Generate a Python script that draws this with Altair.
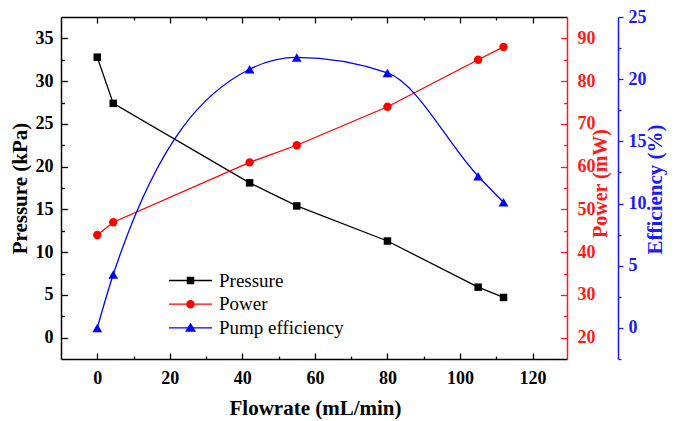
import altair as alt
import pandas as pd

# ---- data ----
flow = [0, 4.4, 42, 55, 80, 105, 112]
pressure = [32.8, 27.4, 18.1, 15.4, 11.3, 5.9, 4.7]
power = [44, 47, 61, 65, 74, 85, 88]
efficiency = [0.0, 4.3, 20.8, 21.75, 20.5, 12.2, 10.1]

series_names = ["Pressure", "Power", "Pump efficiency"]
series_colors = ["#000000", "#ff0000", "#0000ff"]

x_ticks = [0, 20, 40, 60, 80, 100, 120]
x_minor = [0, 10, 20, 30, 40, 50, 60, 70, 80, 90, 100, 110, 120]
p_ticks = [0, 5, 10, 15, 20, 25, 30, 35]
p_minor = [0, 2.5, 5, 7.5, 10, 12.5, 15, 17.5, 20, 22.5, 25, 27.5, 30, 32.5, 35]
w_ticks = [20, 30, 40, 50, 60, 70, 80, 90]
w_minor = [20, 25, 30, 35, 40, 45, 50, 55, 60, 65, 70, 75, 80, 85, 90]
e_minor = [-2.5, 0, 2.5, 5, 7.5, 10, 12.5, 15, 17.5, 20, 22.5, 25]

df = pd.DataFrame({"flow": flow, "pressure": pressure, "power": power, "eff": efficiency})
legend_df = pd.DataFrame({"series": series_names})

# legend symbols: line stub + marker (custom paths, size 100 -> 5px per unit)
legend_paths = [
    "M-4.3,0H4.3M-0.62,-0.62H0.62V0.62H-0.62Z",
    "M-4.3,0H4.3M0.72,0A0.72,0.72,0,1,1,-0.72,0A0.72,0.72,0,1,1,0.72,0Z",
    "M-4.3,0H4.3M0,-0.8L0.87,0.62L-0.87,0.62Z",
]

FONT = "Liberation Serif"
W, H = 506, 342
RED = "#ff1a1a"
BLUE = "#1a1aff"

xs = alt.Scale(domain=[-10, 129.5], nice=False, zero=False)
ys_p = alt.Scale(domain=[-2.5, 37.5], nice=False, zero=False)
ys_w = alt.Scale(domain=[15, 95], nice=False, zero=False)
ys_e = alt.Scale(domain=[-2.5, 25], nice=False, zero=False)

lab = dict(labelFont=FONT, labelFontSize=18, labelFontWeight="bold", grid=False,
           labelOverlap=False, labelFlush=False)
tit = dict(titleFont=FONT, titleFontWeight="bold", titleAlign="center", titleBaseline="middle")


def tsize(mod, big, small):
    return {"condition": {"test": f"abs(datum.value % {mod}) < 0.001", "value": big}, "value": small}


blank = dict(labels=False, domain=False, grid=False, title=None)

x_main = alt.Axis(orient="bottom", values=x_ticks, title="Flowrate (mL/min)", titleFontSize=21,
                  titleX=254, titleY=49, ticks=False, tickSize=0, labelPadding=10,
                  labelColor="black", domainColor="black", domainWidth=1.5, **lab, **tit)
x_in_bottom = alt.Axis(orient="top", offset=-H, values=x_minor, tickColor="black", tickWidth=1.3,
                       tickSize=tsize(20, 6, 3), **blank)
x_in_top = alt.Axis(orient="bottom", offset=-H, values=x_minor, tickColor="black", tickWidth=1.3,
                    tickSize=tsize(20, 6, 3), labels=False, grid=False, title=None,
                    domain=True, domainColor="black", domainWidth=1.5)

y_p_main = alt.Axis(orient="left", values=p_ticks, title="Pressure (kPa)", titleFontSize=21,
                    titleX=-41, titleY=171, titleAngle=270, ticks=False, tickSize=0,
                    labelPadding=8, labelColor="black", domainColor="black", domainWidth=1.5,
                    **lab, **tit)
y_p_in = alt.Axis(orient="right", offset=-W, values=p_minor, tickColor="black", tickWidth=1.3,
                  tickSize=tsize(5, 6.5, 3.5), **blank)

y_w_main = alt.Axis(orient="right", values=w_ticks, title="Power (mW)", titleFontSize=20,
                    titleColor=RED, titleX=33, titleY=166, titleAngle=270, ticks=False,
                    tickSize=0, labelPadding=10, labelColor=RED, domainColor=RED,
                    domainWidth=1.5, **lab, **tit)
y_w_in = alt.Axis(orient="left", offset=-W, values=w_minor, tickColor=RED, tickWidth=1.3,
                  tickSize=tsize(10, 6.5, 3.5), **blank)

y_e_main = alt.Axis(orient="right", offset=51, values=e_minor, title="Efficiency (%)",
                    titleFontSize=21, titleColor=BLUE, titleX=37, titleY=172, titleAngle=270,
                    tickColor=BLUE, tickWidth=1.3, tickSize=tsize(5, 5, 3),
                    labelExpr="abs(datum.value % 5) < 0.001 && datum.value >= 0 ? datum.label : ''",
                    labelPadding=5, labelColor=BLUE, domainColor=BLUE, domainWidth=1.5,
                    **lab, **tit)

base = alt.Chart(df)

p_line = base.mark_line(color="black", strokeWidth=1.3).encode(
    x=alt.X("flow:Q", scale=xs, axis=x_main),
    y=alt.Y("pressure:Q", scale=ys_p, axis=y_p_main),
)
p_pts = base.mark_point(filled=True, shape="square", size=56, color="black", opacity=1).encode(
    x=alt.X("flow:Q", scale=xs, axis=x_in_bottom),
    y=alt.Y("pressure:Q", scale=ys_p, axis=y_p_in),
)
w_line = base.mark_line(color="#ff0000", strokeWidth=1.3).encode(
    x=alt.X("flow:Q", scale=xs, axis=x_in_top),
    y=alt.Y("power:Q", scale=ys_w, axis=y_w_main),
)
w_pts = base.mark_point(filled=True, shape="circle", size=70, color="#ff0000", opacity=1).encode(
    x=alt.X("flow:Q", scale=xs, axis=None),
    y=alt.Y("power:Q", scale=ys_w, axis=y_w_in),
)
e_line = base.mark_line(color="#0000ff", strokeWidth=1.3, interpolate="monotone").encode(
    x=alt.X("flow:Q", scale=xs, axis=None),
    y=alt.Y("eff:Q", scale=ys_e, axis=y_e_main),
)
e_pts = base.mark_point(filled=True, shape="triangle-up", size=95, color="#0000ff", opacity=1).encode(
    x=alt.X("flow:Q", scale=xs, axis=None),
    y=alt.Y("eff:Q", scale=ys_e, axis=None),
)

leg = alt.Legend(orient="none", legendX=120, legendY=254, title=None, labelFont=FONT,
                 labelFontSize=19, labelColor="black", symbolSize=100, symbolStrokeWidth=1.3,
                 symbolOpacity=1, labelOffset=19, rowPadding=3.7, padding=0, labelLimit=0)
legend_layer = alt.Chart(legend_df).transform_filter("false").mark_point(filled=True, opacity=1).encode(
    fill=alt.Fill("series:N", scale=alt.Scale(domain=series_names, range=series_colors), legend=leg),
    stroke=alt.Stroke("series:N", scale=alt.Scale(domain=series_names, range=series_colors), legend=leg),
    shape=alt.Shape("series:N", scale=alt.Scale(domain=series_names, range=legend_paths), legend=leg),
)

chart = alt.layer(p_line, p_pts, w_line, w_pts, e_line, e_pts, legend_layer).resolve_scale(
    y="independent"
).resolve_axis(
    x="independent", y="independent"
).properties(
    width=W, height=H,
    autosize=alt.AutoSizeParams(type="none"),
    padding={"left": 53, "top": 9, "right": 100, "bottom": 60},
    background="white",
).configure(
    font=FONT
).configure_axis(
    labelFont=FONT, titleFont=FONT
).configure_legend(
    labelFont=FONT
).configure_view(strokeWidth=0)

chart.save("out.html", embed_options={"renderer": "svg", "actions": False})
